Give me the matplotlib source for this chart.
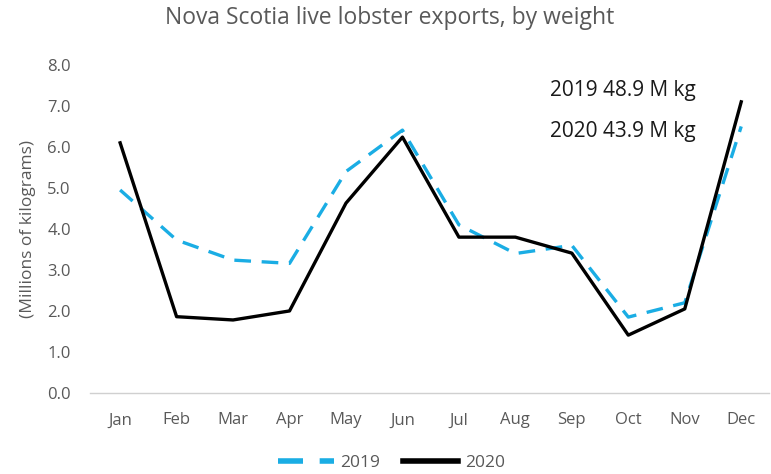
import matplotlib.pyplot as plt
from matplotlib.lines import Line2D

plt.rcParams["font.family"] = ["Open Sans", "DejaVu Sans"]

MONTHS = ["Jan", "Feb", "Mar", "Apr", "May", "Jun",
          "Jul", "Aug", "Sep", "Oct", "Nov", "Dec"]
EXPORTS_2019 = [4.95, 3.73, 3.24, 3.16, 5.4, 6.41, 4.1, 3.4, 3.6, 1.85, 2.2, 6.5]
EXPORTS_2020 = [6.1, 1.86, 1.78, 2.0, 4.63, 6.24, 3.8, 3.8, 3.41, 1.41, 2.05, 7.1]
TOTALS = [("2019", 48.9), ("2020", 43.9)]

C_2019 = "#1AADE4"
C_2020 = "#000000"
C_TEXT = "#595959"

fig = plt.figure(figsize=(7.71, 4.74), dpi=100)
ax = fig.add_axes([0.117, 0.171, 0.881, 0.692])

x = range(len(MONTHS))
ax.plot(x, EXPORTS_2019, color=C_2019, lw=2.4, dashes=(5.0, 3.2),
        solid_joinstyle="miter", zorder=2)
ax.plot(x, EXPORTS_2020, color=C_2020, lw=2.4, zorder=3)

ax.set_xlim(-0.53, 11.5)
ax.set_ylim(0, 8)
ax.set_xticks(list(x))
ax.set_xticklabels(MONTHS)
ax.set_yticks([i for i in range(9)])
ax.set_yticklabels([f"{i:.1f}" for i in range(9)])
ax.tick_params(axis="both", length=0, labelsize=12, labelcolor=C_TEXT)
ax.tick_params(axis="x", pad=14)
ax.tick_params(axis="y", pad=14)

for side in ("top", "right", "left"):
    ax.spines[side].set_visible(False)
ax.spines["bottom"].set_color("#d0d0d0")
ax.spines["bottom"].set_linewidth(1.0)

ax.set_ylabel("(Millions of kilograms)", fontsize=12.5, color=C_TEXT, labelpad=8)
fig.text(0.505, 0.962, "Nova Scotia live lobster exports, by weight",
         ha="center", va="center", fontsize=16.5, color=C_TEXT)

for i, (year, total) in enumerate(TOTALS):
    fig.text(0.713, 0.81 - i * 0.087, f"{year} {total} M kg",
             ha="left", va="center", fontsize=15, color="#1a1a1a")

handles = [
    Line2D([], [], color=C_2019, lw=4, dashes=(4.5, 3.0)),
    Line2D([], [], color=C_2020, lw=4),
]
fig.legend(handles, ["2019", "2020"], loc="center", bbox_to_anchor=(0.508, 0.024),
           ncol=2, frameon=False, fontsize=12.5, labelcolor=C_TEXT,
           handlelength=3.2, handletextpad=0.4, columnspacing=1.3)

fig.savefig("out.png", dpi=100)
